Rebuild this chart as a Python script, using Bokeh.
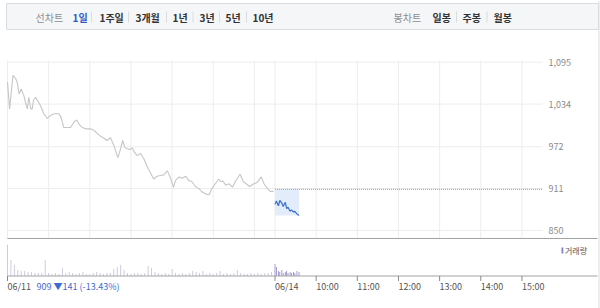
from bokeh.plotting import figure
from bokeh.models import Range1d, Grid
from bokeh.core.properties import value
from bokeh.embed import file_html
from bokeh.resources import INLINE

# ---------------- data ----------------
day_len = 390            # minutes in one session (09:00-15:30)
ref_price = 910          # previous close line on 06/14
close_price = 909
change = -141
change_pct = -13.43

day1_min = [0, 3, 8, 12, 14, 17, 20, 24, 26, 29, 31, 34, 36, 38, 41, 44, 48, 53, 58, 62,
            68, 75, 78, 82, 87, 92, 97, 101, 104, 109, 114, 121, 126, 131, 136, 140, 145, 150, 155, 161,
            164, 168, 171, 175, 178, 182, 185, 189, 194, 199, 204, 209, 213, 218, 223, 228, 233, 237, 242, 245,
            250, 255, 260, 264, 269, 274, 279, 284, 289, 294, 298, 303, 308, 311, 314, 318, 323, 328, 332, 339,
            344, 348, 353, 359, 364, 370, 374, 379, 383, 388]
day1_price = [1066, 1027, 1076, 1071, 1066, 1049, 1056, 1046, 1037, 1027, 1044, 1027, 1027, 1040, 1044, 1039, 1032, 1020, 1013, 1017,
              1020, 1020, 1015, 1000, 1000, 1000, 1008, 1011, 1005, 1000, 998, 998, 996, 991, 987, 985, 981, 985, 974, 956,
              966, 981, 971, 969, 968, 970, 964, 959, 962, 954, 942, 933, 925, 929, 930, 931, 937, 928, 913, 923,
              928, 926, 929, 923, 921, 914, 911, 906, 903, 902, 911, 918, 925, 921, 922, 916, 918, 913, 921, 932,
              921, 918, 914, 918, 920, 928, 918, 911, 907, 907]

day2_min = [0, 2, 5, 7, 10, 12, 15, 17, 19, 22, 24, 27, 29, 32, 35]
day2_price = [888, 893, 886, 894, 890, 885, 891, 882, 884, 878, 880, 877, 878, 874, 872]

vol1_min = [0, 5, 10, 15, 20, 25, 30, 35, 40, 45, 50, 55, 60, 65, 70, 75, 80, 85, 90, 95,
            100, 105, 110, 115, 120, 125, 130, 135, 140, 145, 150, 155, 160, 165, 170, 175, 180, 185, 190, 195,
            200, 205, 210, 215, 220, 225, 230, 235, 240, 245, 250, 255, 260, 265, 270, 275, 280, 285, 290, 295,
            300, 305, 310, 315, 320, 325, 330, 335, 340, 345, 350, 355, 360, 365, 370, 375, 380, 385]
vol1 = [310, 160, 110, 60, 50, 50, 40, 40, 30, 30, 30, 160, 30, 20, 30, 20, 80, 30, 40, 30,
        20, 30, 40, 20, 20, 30, 40, 30, 20, 30, 30, 70, 90, 110, 60, 30, 20, 30, 30, 20,
        30, 100, 80, 40, 30, 20, 30, 20, 70, 30, 20, 30, 20, 30, 50, 40, 30, 50, 20, 30,
        20, 30, 50, 20, 30, 20, 30, 60, 30, 20, 20, 30, 20, 30, 20, 30, 30, 40]
vol2 = [120, 90, 50, 40, 60, 30, 40, 50, 30, 40, 30, 40, 30, 50, 40]

price_ticks = [850, 911, 972, 1034, 1095]
price_tick_labels = ["850", "911", "972", "1,034", "1,095"]
grid_minutes = [0, 60, 120, 180, 240, 300, 360, 390, 450, 510, 570, 630, 690, 750]
xlabel_minutes = [0, 390, 450, 510, 570, 630, 690, 750]
xlabel_text = ["06/11", "06/14", "10:00", "11:00", "12:00", "13:00", "14:00", "15:00"]

left_tabs = ["선차트", "1일", "1주일", "3개월", "1년", "3년", "5년", "10년"]
right_tabs = ["봉차트", "일봉", "주봉", "월봉"]

assert len(day1_min) == len(day1_price)
assert len(vol1_min) == len(vol1)

# ---------------- layout (pixels) ----------------
W, H = 600, 308
X_L, X_R = 7, 542                 # session start / end
session_end = 2 * day_len
ppm = (X_R - X_L) / session_end
Y_HI, Y_LO = 61.7, 230.0          # pixel rows of 1095 / 850
ppp = (Y_LO - Y_HI) / (price_ticks[-1] - price_ticks[0])
V_BASE = 275.5
ppv = 31.2 / max(vol1)
PANEL_TOP, PANEL_BOT = 60, 238

FONT = "Noto Sans CJK KR"

p = figure(width=W, height=H, x_range=Range1d(0, W), y_range=Range1d(H, 0),
           toolbar_location=None, output_backend="svg", min_border=0,
           x_axis_location=None, y_axis_location=None, outline_line_color=None,
           background_fill_color="white", border_fill_color="white")
for g in p.select(type=Grid):
    g.visible = False

p.extra_x_ranges = {"t": Range1d(-X_L / ppm, (W - X_L) / ppm)}
p.extra_y_ranges = {
    "price": Range1d(price_ticks[0] - (H - Y_LO) / ppp, price_ticks[-1] + Y_HI / ppp),
    "vol": Range1d(-(H - V_BASE) / ppv, V_BASE / ppv),
}

# ---------------- tab bar ----------------
p.quad(left=[6], right=[598], top=[3], bottom=[29], fill_color="#f5f6f8", line_color="#d8dbe0", line_width=1)
lx = [35, 72, 99, 135, 172, 199, 225, 252]
lcol = ["#8e8e8e", "#2f5bc4"] + ["#333333"] * 6
lsty = ["normal"] + ["bold"] * 7
p.text(x=lx, y=[16.5] * len(lx), text=left_tabs, text_color=lcol, text_font_style=lsty,
       text_font=value(FONT), text_font_size=value("10px"), text_align="left", text_baseline="middle")
rx = [393, 432, 462, 493]
rcol = ["#8e8e8e", "#333333", "#333333", "#333333"]
rsty = ["normal", "bold", "bold", "bold"]
p.text(x=rx, y=[16.5] * len(rx), text=right_tabs, text_color=rcol, text_font_style=rsty,
       text_font=value(FONT), text_font_size=value("10px"), text_align="left", text_baseline="middle")
sep_x = [91, 128, 166, 192.5, 219, 246, 456, 486.5]
p.segment(x0=sep_x, x1=sep_x, y0=[11] * len(sep_x), y1=[22] * len(sep_x), line_color="#dcdcdc", line_width=1)

# ---------------- grid ----------------
p.segment(x0=grid_minutes, x1=grid_minutes, y0=[PANEL_TOP] * len(grid_minutes), y1=[PANEL_BOT] * len(grid_minutes),
          x_range_name="t", line_color="#ededed", line_width=1)
p.segment(x0=[0] * len(price_ticks), x1=[session_end] * len(price_ticks), y0=price_ticks, y1=price_ticks,
          x_range_name="t", y_range_name="price", line_color="#ededed", line_width=1)

# ---------------- day 2 shading ----------------
d2_t = [day_len + m for m in day2_min]
p.quad(left=[d2_t[0]], right=[d2_t[-1]], bottom=[min(day2_price)], top=[ref_price],
       x_range_name="t", y_range_name="price", fill_color="#e3ecfa", line_color=None)

# ---------------- volume ----------------
p.vbar(x=vol1_min, top=vol1, bottom=0, width=1.4, x_range_name="t", y_range_name="vol",
       fill_color="#cdc8de", line_color=None)
p.vbar(x=d2_t, top=vol2, bottom=0, width=1.1, x_range_name="t", y_range_name="vol",
       fill_color="#8a7fc6", line_color=None)

# ---------------- price lines ----------------
p.segment(x0=[day_len], x1=[session_end], y0=[ref_price], y1=[ref_price], x_range_name="t", y_range_name="price",
          line_color="#9a9a9a", line_width=1, line_dash="1 1")
p.line(x=day1_min, y=day1_price, x_range_name="t", y_range_name="price", line_color="#c6c6c6", line_width=1.1)
p.line(x=d2_t, y=day2_price, x_range_name="t", y_range_name="price", line_color="#3a6fd0", line_width=1.2)

# ---------------- frame lines ----------------
p.segment(x0=[X_L, X_L], x1=[597, 597], y0=[PANEL_BOT, V_BASE], y1=[PANEL_BOT, V_BASE],
          line_color="#a3a3a3", line_width=1)
p.segment(x0=[598.5], x1=[598.5], y0=[0], y1=[H], line_color="#dddddd", line_width=1)
p.segment(x0=xlabel_minutes, x1=xlabel_minutes, y0=[V_BASE] * len(xlabel_minutes), y1=[V_BASE + 5] * len(xlabel_minutes),
          x_range_name="t", line_color="#8a8a8a", line_width=1)

# ---------------- labels ----------------
p.text(x=[548] * len(price_ticks), y=price_ticks, text=price_tick_labels, y_range_name="price",
       text_color="#8a8a8a", text_font=value(FONT), text_font_size=value("9px"),
       text_align="left", text_baseline="middle")
p.text(x=xlabel_minutes, y=[286] * len(xlabel_minutes), text=xlabel_text, x_range_name="t",
       text_color="#555555", text_font=value(FONT), text_font_size=value("9px"),
       text_align="left", text_baseline="middle")
summary = f"{close_price} ▼{abs(change)} ({change_pct:.2f}%)"
p.text(x=[36], y=[286], text=[summary], text_color="#3e6ccf", text_font=value(FONT),
       text_font_size=value("9px"), text_align="left", text_baseline="middle")

# legend
p.quad(left=[561], right=[562.8], top=[247], bottom=[253], fill_color="#8a7fc6", line_color=None)
p.text(x=[564.5], y=[250], text=["거래량"], text_color="#555555", text_font=value(FONT),
       text_font_size=value("8px"), text_align="left", text_baseline="middle")

open("out.html", "w").write(file_html(p, INLINE))
